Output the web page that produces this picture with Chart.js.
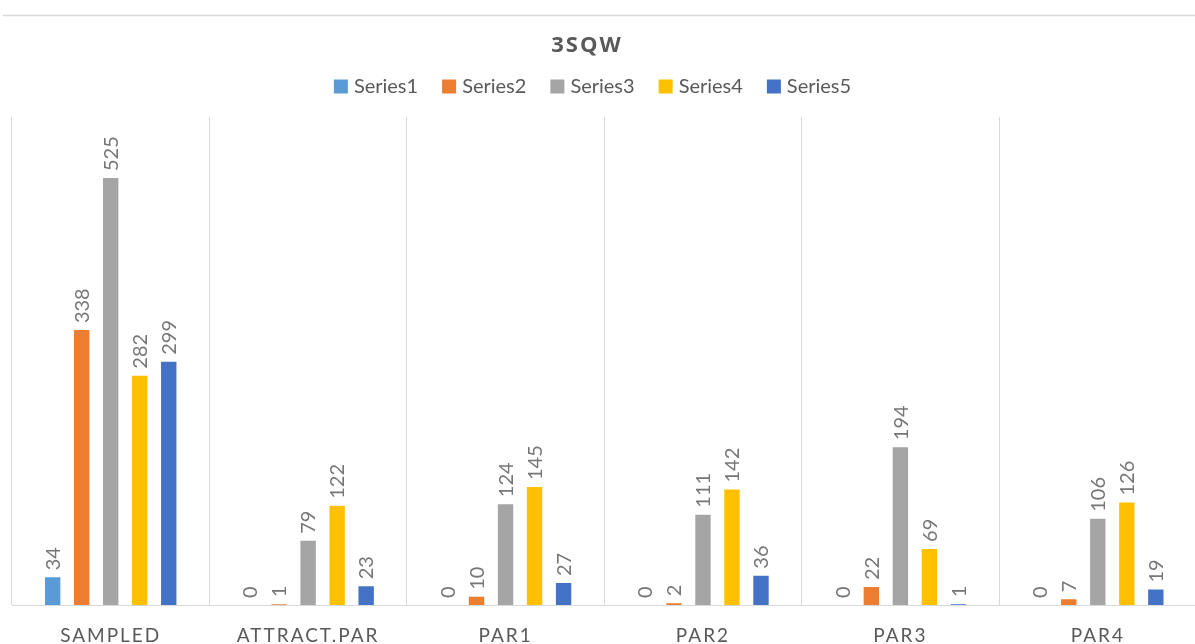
<!DOCTYPE html>
<html lang="en">
<head>
<meta charset="UTF-8" />
<title>3SQW</title>
<script src="https://cdn.jsdelivr.net/npm/chart.js"></script>
<style>
  html, body { margin: 0; padding: 0; background: #fff; overflow: hidden; }
  canvas { display: block; }
</style>
</head>
<body>
<canvas id="chart" width="1200" height="644"></canvas>
<script>
// chart data
const chartTitle = '3SQW';
const categories = ['SAMPLED', 'ATTRACT.PAR', 'PAR1', 'PAR2', 'PAR3', 'PAR4'];
const seriesNames = ['Series1', 'Series2', 'Series3', 'Series4', 'Series5'];
const series1 = [34, 0, 0, 0, 0, 0];
const series2 = [338, 1, 10, 2, 22, 7];
const series3 = [525, 79, 124, 111, 194, 106];
const series4 = [282, 122, 145, 142, 69, 126];
const series5 = [299, 23, 27, 36, 1, 19];
const seriesColors = ['#5B9BD5', '#ED7D31', '#A5A5A5', '#FFC000', '#4472C4'];

const TEXT = '#595959';
const LABEL = '#767676';
const GRID = '#d9d9d9';
const FONT = 'Lato, "Open Sans", sans-serif';

// thin rule across the top of the frame
const framePlugin = {
  id: 'frame',
  beforeDraw(chart) {
    const ctx = chart.ctx;
    ctx.save();
    ctx.strokeStyle = GRID;
    ctx.lineWidth = 1.5;
    ctx.beginPath();
    ctx.moveTo(3, 15.5);
    ctx.lineTo(chart.width, 15.5);
    ctx.stroke();
    ctx.restore();

    // wider letter spacing for the category names
    const xs = chart.scales.x;
    if (xs && !xs._spaced) {
      const draw = xs.drawLabels;
      xs.drawLabels = function (area) {
        const c = this.ctx;
        const prev = c.letterSpacing;
        c.letterSpacing = '2px';
        draw.call(this, area);
        c.letterSpacing = prev;
      };
      xs._spaced = true;
    }
  }
};

// title and legend row above the plot
const headerPlugin = {
  id: 'header',
  afterDraw(chart) {
    const ctx = chart.ctx;
    ctx.save();
    ctx.fillStyle = TEXT;
    ctx.textBaseline = 'alphabetic';

    ctx.font = 'bold 22px "Open Sans", sans-serif';
    ctx.letterSpacing = '2px';
    ctx.textAlign = 'center';
    ctx.fillText(chartTitle, 587, 52);

    ctx.letterSpacing = '0px';
    ctx.font = '20px ' + FONT;
    ctx.textAlign = 'left';
    const box = 14, gap = 6, spacing = 24;
    const widths = chart.data.datasets.map(d => ctx.measureText(d.label).width);
    const total = widths.reduce((s, w) => s + box + gap + w, 0) + spacing * (widths.length - 1);
    let x = 592.5 - total / 2;
    chart.data.datasets.forEach((d, i) => {
      ctx.fillStyle = d.backgroundColor;
      ctx.fillRect(x, 79.5, box, box);
      ctx.fillStyle = TEXT;
      ctx.fillText(d.label, x + box + gap, 93);
      x += box + gap + widths[i] + spacing;
    });
    ctx.restore();
  }
};

// rotated value labels above each bar
const valueLabels = {
  id: 'valueLabels',
  afterDatasetsDraw(chart) {
    const ctx = chart.ctx;
    const size = 20;
    ctx.save();
    ctx.font = size + 'px ' + FONT;
    ctx.fillStyle = LABEL;
    ctx.textAlign = 'left';
    ctx.textBaseline = 'alphabetic';
    chart.data.datasets.forEach((ds, i) => {
      chart.getDatasetMeta(i).data.forEach((bar, j) => {
        ctx.save();
        ctx.translate(bar.x, bar.y - 7);
        ctx.rotate(-Math.PI / 2);
        ctx.fillText(String(ds.data[j]), 0, size * 0.36);
        ctx.restore();
      });
    });
    ctx.restore();
  }
};

const allSeries = [series1, series2, series3, series4, series5];

new Chart(document.getElementById('chart'), {
  type: 'bar',
  data: {
    labels: categories,
    datasets: allSeries.map((values, i) => ({
      label: seriesNames[i],
      data: values,
      backgroundColor: seriesColors[i],
      borderWidth: 0,
      categoryPercentage: 0.735,
      barPercentage: 0.53
    }))
  },
  options: {
    responsive: false,
    animation: false,
    layout: { padding: { top: 117, left: 12, right: 3.5, bottom: 0 } },
    plugins: {
      legend: { display: false },
      title: { display: false },
      tooltip: { enabled: false }
    },
    scales: {
      x: {
        grid: { offset: true, drawTicks: false, color: GRID, lineWidth: 1 },
        border: { color: GRID, width: 1 },
        ticks: {
          color: TEXT,
          padding: 19,
          font: { family: FONT, size: 19 }
        },
        afterFit(scale) { scale.height = 39; }
      },
      y: {
        display: false,
        min: 0,
        max: 600
      }
    }
  },
  plugins: [framePlugin, headerPlugin, valueLabels]
});
</script>
</body>
</html>
